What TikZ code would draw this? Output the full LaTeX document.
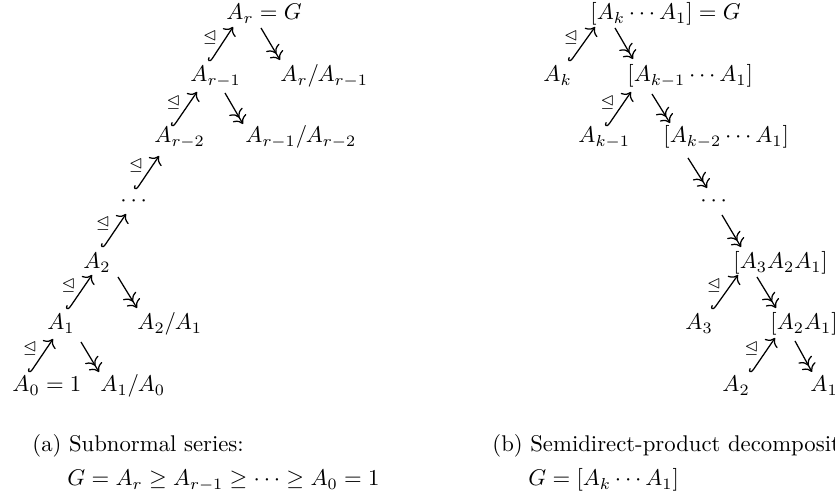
\documentclass[tikz,border=0pt]{standalone}
\usepackage{amssymb}
\usetikzlibrary{arrows.meta}
\begin{document}
\begin{tikzpicture}[x=0.44pt,y=-0.44pt,
  term/.style={anchor=base west, inner sep=0pt},
  hookar/.style={line width=0.55pt, {Hooks[right,length=1.5pt,width=3.4pt]}-{To[scale=1.15]}},
  surj/.style={line width=0.55pt, >={To[scale=1.15]}, ->>},
  nlab/.style={font=\scriptsize, inner sep=0pt, pos=0.5, xshift=-5.1pt, yshift=3.1pt}]
\useasboundingbox (0,0) rectangle (835,497);
% ---------- left tree ----------
\node[term] (L0) at (226,20) {$A_r = G$};
\node[term] (L1) at (190,82) {$A_{r-1}$};
\node[term] (L1q) at (280,82) {$A_r/A_{r-1}$};
\node[term] (L2) at (154,143) {$A_{r-2}$};
\node[term] (L2q) at (245,143) {$A_{r-1}/A_{r-2}$};
\node[term] (Ld) at (120,207) {$\cdots$};
\node[term] (L3) at (83,269) {$A_2$};
\node[term] (L4) at (47,330) {$A_1$};
\node[term] (L4q) at (137,330) {$A_2/A_1$};
\node[term] (L5) at (12,392) {$A_0 = 1$};
\node[term] (L5q) at (100,392) {$A_1/A_0$};

\draw[hookar] ([shift={(20,-20)}]L1.base west) -- ([shift={(7,7)}]L0.base west) node[nlab] (lh1) {$\trianglelefteq$};
\draw[hookar] ([shift={(19,-16)}]L2.base west) -- ([shift={(7,10)}]L1.base west) node[nlab] (lh2) {$\trianglelefteq$};
\draw[hookar] ([shift={(16,-17)}]Ld.base west) -- ([shift={(5,13)}]L2.base west) node[nlab] (lh3) {$\trianglelefteq$};
\draw[hookar] ([shift={(20,-21)}]L3.base west) -- ([shift={(6,7)}]Ld.base west) node[nlab] (lh4) {$\trianglelefteq$};
\draw[hookar] ([shift={(21,-20)}]L4.base west) -- ([shift={(9,6)}]L3.base west) node[nlab] (lh5) {$\trianglelefteq$};
\draw[hookar] ([shift={(18,-19)}]L5.base west) -- ([shift={(6,9)}]L4.base west) node[nlab] (lh6) {$\trianglelefteq$};

\draw[surj] ([shift={(35,8)}]L0.base west) -- ([shift={(0,-22)}]L1q.base west);
\draw[surj] ([shift={(35,11)}]L1.base west) -- ([shift={(-2,-19)}]L2q.base west);
\draw[surj] ([shift={(35,8)}]L3.base west) -- ([shift={(0,-22)}]L4q.base west);
\draw[surj] ([shift={(34,12)}]L4.base west) -- ([shift={(-1,-20)}]L5q.base west);

% ---------- right tree ----------
\node[term] (R0) at (590,20) {$[A_k\cdots A_1] = G$};
\node[term] (R1a) at (543,82) {$A_k$};
\node[term] (R1) at (627,82) {$[A_{k-1}\cdots A_1]$};
\node[term] (R2a) at (578,143) {$A_{k-1}$};
\node[term] (R2) at (663,143) {$[A_{k-2}\cdots A_1]$};
\node[term] (Rd) at (700,207) {$\cdots$};
\node[term] (R3) at (733,269) {$[A_3A_2A_1]$};
\node[term] (R4a) at (685,330) {$A_3$};
\node[term] (R4) at (770,330) {$[A_2A_1]$};
\node[term] (R5a) at (722,392) {$A_2$};
\node[term] (R5) at (810,392) {$A_1$};

\draw[hookar] ([shift={(27,-20)}]R1a.base west) -- ([shift={(5,7)}]R0.base west) node[nlab] (rh1) {$\trianglelefteq$};
\draw[hookar] ([shift={(29,-16)}]R2a.base west) -- ([shift={(4,10)}]R1.base west) node[nlab] (rh2) {$\trianglelefteq$};
\draw[hookar] ([shift={(28,-20)}]R4a.base west) -- ([shift={(5,6)}]R3.base west) node[nlab] (rh3) {$\trianglelefteq$};
\draw[hookar] ([shift={(29,-19)}]R5a.base west) -- ([shift={(5,8)}]R4.base west) node[nlab] (rh4) {$\trianglelefteq$};

\draw[surj] ([shift={(25,8)}]R0.base west) -- ([shift={(6,-23)}]R1.base west);
\draw[surj] ([shift={(25,12)}]R1.base west) -- ([shift={(7,-20)}]R2.base west);
\draw[surj] ([shift={(25,15)}]R2.base west) -- ([shift={(7,-19)}]Rd.base west);
\draw[surj] ([shift={(22,8)}]Rd.base west) -- ([shift={(8,-22)}]R3.base west);
\draw[surj] ([shift={(24,8)}]R3.base west) -- ([shift={(6,-22)}]R4.base west);
\draw[surj] ([shift={(25,11)}]R4.base west) -- ([shift={(2,-20)}]R5.base west);

% ---------- captions ----------
\node[term] (capa) at (32,452) {(a) Subnormal series:};
\node[term] (capa2) at (67,486) {$G = A_r \geq A_{r-1} \geq \cdots \geq A_0 = 1$};
\node[term] (capb) at (492,452) {(b) Semidirect-product decomposition:};
\node[term] (capb2) at (528,486) {$G = [A_k\cdots A_1]$};
\end{tikzpicture}
\end{document}
